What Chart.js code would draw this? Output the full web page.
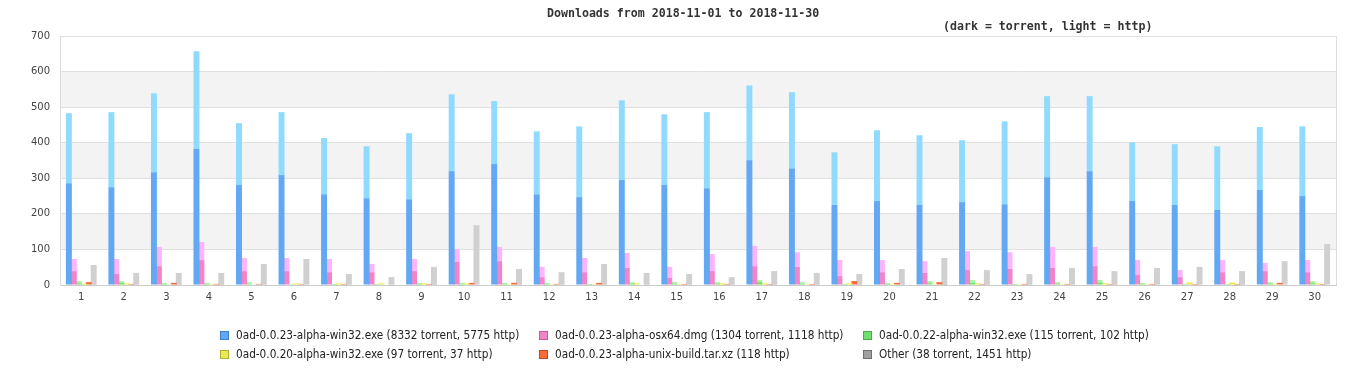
<!DOCTYPE html>
<html>
<head>
<meta charset="utf-8">
<script src="https://cdn.jsdelivr.net/npm/chart.js@4"></script>
<style>
  body { margin: 0; background: #fff; }
  #wrap { position: relative; width: 1366px; height: 380px; }
  .title { position: absolute; font-family: 'DejaVu Sans Mono', monospace; font-weight: bold; font-size: 11.6px; color: #333; white-space: nowrap; }
  .leg { position: absolute; font-family: 'DejaVu Sans Condensed', 'DejaVu Sans', sans-serif; font-stretch: condensed; font-size: 11.7px; color: #222; white-space: nowrap; line-height: 14px; }
  .leg i { position: absolute; left: -16px; top: 3px; width: 7px; height: 7px; border: 1px solid; }
</style>
</head>
<body>
<div id="wrap">
  <canvas id="chart" width="1366" height="380"></canvas>
  <div class="title" style="left:547px; top:6px;">Downloads from 2018-11-01 to 2018-11-30</div>
  <div class="title" style="left:943px; top:19px;">(dark = torrent, light = http)</div>
  <div id="legend"></div>
</div>
<script>
const days = ['1','2','3','4','5','6','7','8','9','10','11','12','13','14','15','16','17','18','19','20','21','22','23','24','25','26','27','28','29','30'];
const yTicks = [0, 100, 200, 300, 400, 500, 600, 700];

const win32Torrent = [286,275,317,382,281,309,255,244,241,320,340,255,247,295,281,272,351,328,225,236,225,233,227,303,320,236,225,211,267,250];
const win32Http    = [197,211,222,275,174,177,158,146,186,216,177,177,199,224,199,214,210,214,148,199,196,174,233,228,211,165,171,179,177,196];
const osxTorrent   = [39,31,53,70,39,39,36,36,39,65,67,22,36,48,20,39,53,51,25,36,34,42,45,48,53,28,22,36,39,36];
const osxHttp      = [34,42,54,51,37,37,37,23,34,36,40,29,40,42,31,48,57,41,45,34,33,53,47,59,54,42,20,34,23,34];
const w22Torrent   = [5,6,3,3,3,2,1,1,3,3,3,3,3,4,4,4,8,3,1,3,5,6,1,4,7,3,1,1,4,5];
const w22Http      = [6,5,3,3,5,1,2,2,3,3,3,3,0,4,4,4,6,5,2,3,6,8,2,4,7,3,2,2,4,6];
const w20Torrent   = [3,4,2,2,0,4,4,4,4,4,2,2,2,4,2,4,4,2,4,2,2,4,2,2,4,2,6,6,2,4];
const w20Http      = [1,2,0,1,0,1,2,2,2,2,1,1,1,2,1,2,2,1,2,1,1,2,1,1,2,1,2,2,1,2];
const unixHttp     = [8,3,6,3,3,3,3,0,3,6,6,3,6,0,3,3,3,3,11,6,8,3,3,3,3,3,3,3,6,3];
const otherTorrent = [1,1,1,1,1,2,1,1,1,2,1,1,1,1,1,1,1,1,1,1,3,1,1,1,1,2,1,1,2,2];
const otherHttp    = [55,33,33,33,58,71,30,21,50,166,44,35,58,33,30,21,38,33,30,44,73,41,30,47,38,46,50,38,65,113];

const legendLabels = [
  '0ad-0.0.23-alpha-win32.exe (8332 torrent, 5775 http)',
  '0ad-0.0.23-alpha-osx64.dmg (1304 torrent, 1118 http)',
  '0ad-0.0.22-alpha-win32.exe (115 torrent, 102 http)',
  '0ad-0.0.20-alpha-win32.exe (97 torrent, 37 http)',
  '0ad-0.0.23-alpha-unix-build.tar.xz (118 http)',
  'Other (38 torrent, 1451 http)'
];
const legendColors = ['#62a8f2','#f284cc','#6ee06e','#e8e858','#fa6a3a','#a0a0a0'];
const legendBorders = ['#3d7fc4','#c25a9c','#48ae48','#b0b030','#c04a22','#707070'];

function ds(data, color, stack) {
  return { data: data, backgroundColor: color, stack: stack, borderWidth: 0 };
}

const datasets = [
  ds(win32Torrent, '#62a8f2', 'a'), ds(win32Http, '#90dbfd', 'a'),
  ds(osxTorrent, '#f284cc', 'b'), ds(osxHttp, '#fdb4fd', 'b'),
  ds(w22Torrent, '#6ee06e', 'c'), ds(w22Http, '#a2f9a2', 'c'),
  ds(w20Torrent, '#e6e650', 'd'), ds(w20Http, '#f8f888', 'd'),
  ds(unixHttp, '#fa6a3a', 'e'),
  ds(otherTorrent, '#999999', 'f'), ds(otherHttp, '#d0d0d0', 'f')
];

// grey bands + frame of the plot area
const bands = {
  id: 'bands',
  beforeDraw(chart) {
    const { ctx, chartArea: a, scales: { y } } = chart;
    ctx.save();
    ctx.fillStyle = '#f3f3f3';
    for (let i = 1; i < yTicks.length - 1; i += 2) {
      const top = y.getPixelForValue(yTicks[i + 1]);
      const bot = y.getPixelForValue(yTicks[i]);
      ctx.fillRect(a.left, top, a.right - a.left, bot - top);
    }
    ctx.restore();
  },
  afterDraw(chart) {
    const { ctx, chartArea: a } = chart;
    ctx.save();
    ctx.strokeStyle = '#dcdcdc';
    ctx.lineWidth = 1;
    ctx.beginPath();
    ctx.moveTo(a.right + 0.5, a.top);
    ctx.lineTo(a.right + 0.5, a.bottom);
    ctx.stroke();
    ctx.restore();
  }
};

new Chart(document.getElementById('chart'), {
  type: 'bar',
  data: { labels: days, datasets: datasets },
  plugins: [bands],
  options: {
    responsive: false,
    animation: false,
    devicePixelRatio: 1,
    datasets: { bar: { categoryPercentage: 0.7, barPercentage: 1.2 } },
    layout: { padding: { top: 36, right: 30, bottom: 65, left: 0 } },
    plugins: { legend: { display: false }, tooltip: { enabled: false } },
    scales: {
      x: {
        stacked: true,
        grid: { display: false, drawTicks: false },
        border: { color: '#cccccc' },
        ticks: { color: '#444', font: { family: 'DejaVu Sans', size: 10 }, padding: 6, maxRotation: 0, autoSkip: false },
        afterFit(s) { s.height = 30; }
      },
      y: {
        stacked: true,
        min: 0,
        max: 700,
        grid: { color: '#e0e0e0', drawTicks: false },
        border: { color: '#dcdcdc' },
        ticks: { stepSize: 100, color: '#444', font: { family: 'DejaVu Sans', size: 10 }, padding: 10 },
        afterFit(s) { s.width = 60; }
      }
    }
  }
});

// legend in three columns
const legend = document.getElementById('legend');
const cols = [236, 555, 879];
const rows = [328, 347];
legendLabels.forEach((t, i) => {
  const d = document.createElement('div');
  d.className = 'leg';
  d.style.left = cols[i % 3] + 'px';
  d.style.top = rows[Math.floor(i / 3)] + 'px';
  d.innerHTML = '<i style="background:' + legendColors[i] + ';border-color:' + legendBorders[i] + '"></i>' + t;
  legend.appendChild(d);
});
</script>
</body>
</html>
